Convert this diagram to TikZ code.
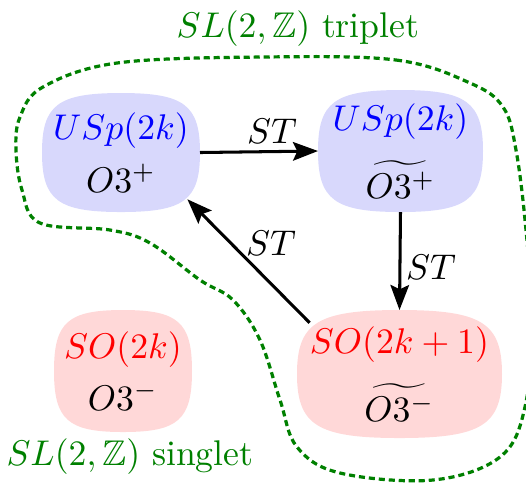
\documentclass[tikz,border=0pt]{standalone}
\usepackage{amssymb}
\usetikzlibrary{calc,arrows.meta,backgrounds}
\newcommand{\pxu}{0.28pt}
\newcommand{\kk}{0.8}
\newcommand{\blobfill}[2]{%
 \fill[#2] (#1.north) .. controls ($(#1.north)!\kk!(#1.north east)$) and ($(#1.east)!\kk!(#1.north east)$) .. (#1.east)
 .. controls ($(#1.east)!\kk!(#1.south east)$) and ($(#1.south)!\kk!(#1.south east)$) .. (#1.south)
 .. controls ($(#1.south)!\kk!(#1.south west)$) and ($(#1.west)!\kk!(#1.south west)$) .. (#1.west)
 .. controls ($(#1.west)!\kk!(#1.north west)$) and ($(#1.north)!\kk!(#1.north west)$) .. (#1.north) -- cycle;}
\definecolor{bluefill}{RGB}{216,216,252}
\definecolor{redfill}{RGB}{255,216,216}
\definecolor{dgreen}{RGB}{0,128,0}
\tikzset{
  blobnode/.style={inner sep=0pt, outer sep=0pt, align=center},
  starrow/.style={-{Stealth[length=7pt,width=5.2pt,inset=1.2pt]}, line width=0.85pt},
  stlabel/.style={inner sep=0pt},
  grouplabel/.style={text=dgreen, inner sep=0pt},
  boundary/.style={dgreen, line width=0.9pt, dash pattern=on 1.7pt off 1.1pt}
}
\begin{document}
\begin{tikzpicture}[x=\pxu,y=-\pxu]
\useasboundingbox (0,0) rectangle (526,482);
\clip (0,0) rectangle (526,482);
\node[blobnode, minimum width=158*\pxu, minimum height=119*\pxu] (n1) at (121,152.5)
  {$\color{blue}USp(2k)$\\[3pt] $O3^+$};
\node[blobnode, minimum width=165*\pxu, minimum height=122*\pxu] (n2) at (400.5,151)
  {$\color{blue}USp(2k)$\\[5pt] $\widetilde{O3^+}$};
\node[blobnode, minimum width=138*\pxu, minimum height=122*\pxu] (n3) at (123,371)
  {$\color{red}SO(2k)$\\[2.5pt] $O3^-$};
\node[blobnode, minimum width=205*\pxu, minimum height=128*\pxu] (n4) at (399.5,374)
  {$\color{red}SO(2k+1)$\\[5pt] $\widetilde{O3^-}$};
\begin{scope}[on background layer]
\blobfill{n1}{bluefill}
\blobfill{n2}{bluefill}
\blobfill{n3}{redfill}
\blobfill{n4}{redfill}
\end{scope}
\draw[starrow] (n1.east) -- (n2.west);
\draw[starrow] (n2.south) -- (n4.north);
\draw[starrow] ($(n4.north west)!-0.13!(n1.south east)$) -- ($(n1.south east)!-0.13!(n4.north west)$);
\node[stlabel] (l1) at (272,131) {$ST$};
\node[stlabel] (l2) at (431,267) {$ST$};
\node[stlabel] (l3) at (271,243) {$ST$};
\node[grouplabel] (t1) at (298,29) {$SL(2,\mathbb{Z})$ triplet};
\node[grouplabel] (t2) at (130,457) {$SL(2,\mathbb{Z})$ singlet};
\draw[boundary] plot[smooth cycle, tension=0.6] coordinates {
 (263,57) (396,60) (470,83) (503,107) (516,150) (526,230) (532,320) (525,407)
 (500,457) (433,480) (340,473) (297,447) (280,400) (260,340) (233,300) (200,280)
 (150,243) (110,230) (40,223) (22,190) (16,150) (20,117) (43,87) (117,63)};
\end{tikzpicture}
\end{document}
